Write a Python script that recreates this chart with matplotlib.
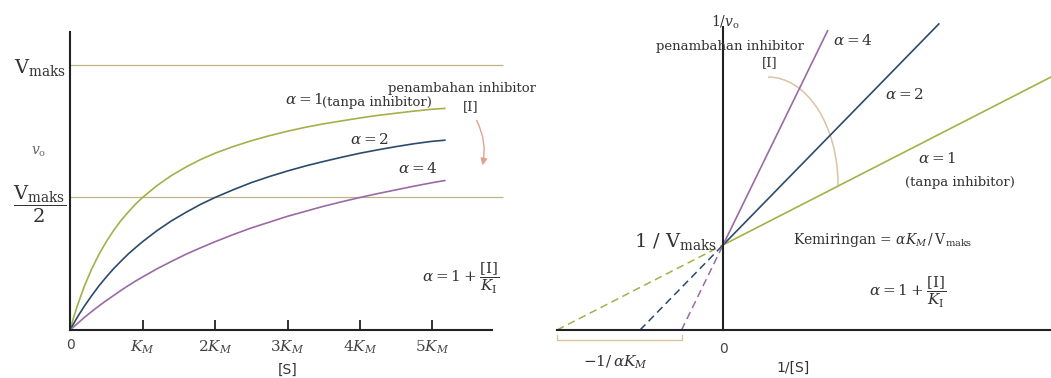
import matplotlib
matplotlib.use("Agg")
import matplotlib.pyplot as plt
from matplotlib.patches import Arc

plt.rcParams["font.family"] = "DejaVu Serif"
plt.rcParams["mathtext.fontset"] = "dejavuserif"

TXT = "#333333"
C_A1 = "#a4b04a"
C_A2 = "#2c4a6c"
C_A4 = "#9b6aa6"
C_REF = "#bdb48a"
C_ARROW = "#e3a28e"
C_ARC = "#d9c4a4"

# Michaelis-Menten curves, [S] in units of K_M, v0 as fraction of Vmax
s_vals = [0, 0.05, 0.1, 0.2, 0.3, 0.4, 0.5, 0.6, 0.7, 0.8, 0.9, 1.0, 1.2, 1.4, 1.6,
          1.8, 2.0, 2.25, 2.5, 2.75, 3.0, 3.25, 3.5, 3.75, 4.0, 4.25, 4.5, 4.75, 5.0, 5.17]
v_alpha1 = [0, 0.048, 0.091, 0.167, 0.231, 0.286, 0.333, 0.375, 0.412, 0.444, 0.474, 0.5,
            0.545, 0.583, 0.615, 0.643, 0.667, 0.692, 0.714, 0.733, 0.75, 0.765, 0.778,
            0.789, 0.8, 0.81, 0.818, 0.826, 0.833, 0.836]
v_alpha2 = [0, 0.024, 0.048, 0.091, 0.13, 0.167, 0.2, 0.231, 0.259, 0.286, 0.31, 0.333,
            0.375, 0.412, 0.444, 0.474, 0.5, 0.529, 0.556, 0.579, 0.6, 0.619, 0.636,
            0.652, 0.667, 0.68, 0.692, 0.703, 0.712, 0.716]
v_alpha4 = [0, 0.012, 0.024, 0.048, 0.07, 0.091, 0.111, 0.13, 0.149, 0.167, 0.184, 0.2,
            0.231, 0.259, 0.286, 0.31, 0.333, 0.36, 0.385, 0.407, 0.429, 0.448, 0.467,
            0.484, 0.5, 0.515, 0.529, 0.543, 0.556, 0.564]
km_ticks = [0, 1, 2, 3, 4, 5]
km_labels = ["0", "$K_M$", "$2K_M$", "$3K_M$", "$4K_M$", "$5K_M$"]

# Lineweaver-Burk lines: 1/v0 = 1/Vmax + alpha*K_M/Vmax * 1/[S]
alphas = [1, 2, 4]
lb_colors = [C_A1, C_A2, C_A4]
lb_x_end = [1.98, 1.30, 0.63]
inv_vmax = 1.0

W, H = 1051, 378
fig = plt.figure(figsize=(W / 100, H / 100), dpi=100)

# ---- left: v0 versus [S]
ax1 = fig.add_axes([0, 0, 530 / W, 1])
ax1.set_xlim(-0.966, 6.345)
ax1.set_ylim(-0.181, 1.245)
ax1.patch.set_alpha(0)
for side in ("top", "right"):
    ax1.spines[side].set_visible(False)
ax1.spines["left"].set_position(("data", 0))
ax1.spines["bottom"].set_position(("data", 0))
ax1.spines["left"].set_bounds(0, 1.125)
ax1.spines["bottom"].set_bounds(0, 5.82)
for side in ("left", "bottom"):
    ax1.spines[side].set_linewidth(1.5)
    ax1.spines[side].set_color("#222222")

ax1.set_xticks(km_ticks)
ax1.set_xticklabels(km_labels, fontsize=11, color=TXT)
zero_lbl = ax1.get_xticklabels()[0]
zero_lbl.set_family("DejaVu Sans")
zero_lbl.set_fontsize(10)
ax1.tick_params(axis="x", direction="in", length=7, width=1.3, pad=6, colors="#222222")
for lbl in ax1.get_xticklabels():
    lbl.set_color("#444444")
ax1.set_yticks([0.5, 1.0])
ax1.set_yticklabels([r"$\dfrac{\mathrm{V}_{\mathrm{maks}}}{2}$", r"$\mathrm{V}_{\mathrm{maks}}$"],
                    fontsize=14, color=TXT)
ax1.tick_params(axis="y", length=0, pad=3)

ax1.hlines([1.0, 0.5], 0, 5.97, color=C_REF, lw=0.9)
ax1.plot(s_vals, v_alpha1, color=C_A1, lw=1.2)
ax1.plot(s_vals, v_alpha2, color=C_A2, lw=1.2)
ax1.plot(s_vals, v_alpha4, color=C_A4, lw=1.2)

ax1.text(-0.43, 0.672, "$v_\\mathrm{o}$", fontsize=10, color="#666666", ha="center", va="center")
ax1.text(3.0, -0.15, "[S]", fontsize=10, color=TXT, ha="center", va="center", family="DejaVu Sans")
ax1.text(2.97, 0.868, r"$\alpha = 1$", fontsize=11, color=TXT, ha="left", va="center")
ax1.text(3.48, 0.86, "(tanpa inhibitor)", fontsize=9.5, color=TXT, ha="left", va="center")
ax1.text(3.86, 0.717, r"$\alpha = 2$", fontsize=11, color=TXT, ha="left", va="center")
ax1.text(4.52, 0.611, r"$\alpha = 4$", fontsize=11, color=TXT, ha="left", va="center")
ax1.text(4.39, 0.913, "penambahan inhibitor", fontsize=9.5, color=TXT, ha="left", va="center")
ax1.text(5.52, 0.842, "[I]", fontsize=9.5, color=TXT, ha="center", va="center")
ax1.annotate("", xy=(5.68, 0.611), xytext=(5.59, 0.80),
             arrowprops=dict(arrowstyle="-|>", color=C_ARROW, lw=1.0,
                             connectionstyle="arc3,rad=-0.2", mutation_scale=10))
ax1.text(5.38, 0.196, r"$\alpha = 1 + \dfrac{\mathrm{[I]}}{K_\mathrm{I}}$", fontsize=11,
         color=TXT, ha="center", va="center")

# ---- right: double reciprocal plot
ax2 = fig.add_axes([530 / W, 0, 521 / W, 1])
ax2.set_xlim(-1.163, 1.976)
ax2.set_ylim(-0.565, 3.882)
ax2.patch.set_alpha(0)
for side in ("top", "right"):
    ax2.spines[side].set_visible(False)
ax2.spines["left"].set_position(("data", 0))
ax2.spines["bottom"].set_position(("data", 0))
ax2.spines["left"].set_bounds(0, 3.56)
ax2.spines["bottom"].set_bounds(-1, 1.976)
for side in ("left", "bottom"):
    ax2.spines[side].set_linewidth(1.5)
    ax2.spines[side].set_color("#222222")
ax2.set_xticks([0])
ax2.set_xticklabels(["0"], fontsize=10, color="#444444", family="DejaVu Sans")
ax2.tick_params(axis="x", length=0, pad=9)
ax2.set_yticks([])

for a, c, xe in zip(alphas, lb_colors, lb_x_end):
    x0 = -inv_vmax / a
    ax2.plot([x0, 0], [0, inv_vmax], color=c, lw=1.1, ls=(0, (5, 3)))
    ax2.plot([0, xe], [inv_vmax, inv_vmax + a * xe], color=c, lw=1.2)

# bracket spanning the x intercepts
xb0, xb1 = -inv_vmax / alphas[0], -inv_vmax / alphas[-1]
ax2.plot([xb0, xb0, xb1, xb1], [-0.06, -0.118, -0.118, -0.06], color=C_ARC, lw=1.0)

ax2.add_patch(Arc((0.271, 1.706), 2 * 0.422, 2 * 1.27, theta1=0, theta2=90,
                  color=C_ARC, lw=1.1))

ax2.text(0.012, 3.62, "$1/v_\\mathrm{o}$", fontsize=10, color=TXT, ha="center", va="center")
ax2.text(0.042, 3.33, "penambahan inhibitor", fontsize=9.5, color=TXT, ha="center", va="center")
ax2.text(0.283, 3.14, "[I]", fontsize=9.5, color=TXT, ha="center", va="center")
ax2.text(0.663, 3.41, r"$\alpha = 4$", fontsize=11, color=TXT, ha="left", va="center")
ax2.text(0.976, 2.765, r"$\alpha = 2$", fontsize=11, color=TXT, ha="left", va="center")
ax2.text(1.29, 2.02, r"$\alpha = 1$", fontsize=11, color=TXT, ha="center", va="center")
ax2.text(1.43, 1.74, "(tanpa inhibitor)", fontsize=9.5, color=TXT, ha="center", va="center")
ax2.text(0.42, 1.06, r"Kemiringan = $\alpha K_M\,/\,\mathrm{V}_{\mathrm{maks}}$", fontsize=10,
         color=TXT, ha="left", va="center")
ax2.text(-0.036, 1.035, r"1 / V$_{\mathrm{maks}}$", fontsize=14, color=TXT, ha="right", va="center")
ax2.text(1.114, 0.447, r"$\alpha = 1 + \dfrac{\mathrm{[I]}}{K_\mathrm{I}}$", fontsize=11,
         color=TXT, ha="center", va="center")
ax2.text(-0.65, -0.376, r"$-1/\,\alpha K_M$", fontsize=11, color=TXT, ha="center", va="center")
ax2.text(0.42, -0.447, "1/[S]", fontsize=10, color=TXT, ha="center", va="center", family="DejaVu Sans")

fig.savefig("out.png", dpi=100, facecolor="white")
